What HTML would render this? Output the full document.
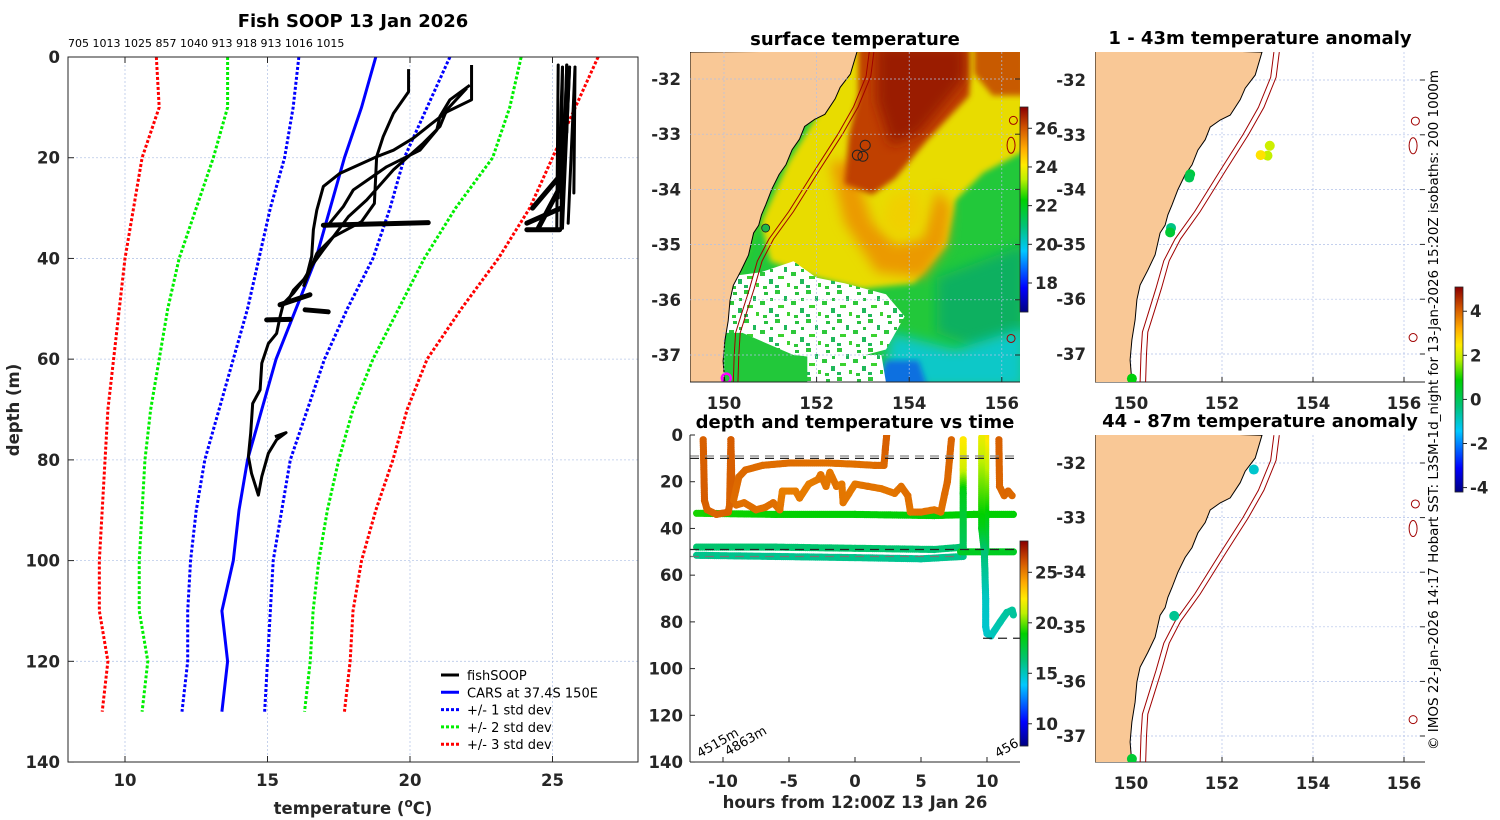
<!DOCTYPE html>
<html><head><meta charset="utf-8"><style>
body{margin:0;background:#fff}
svg{display:block;font-family:"DejaVu Sans","Liberation Sans",sans-serif}
.tk{font-size:16.5px;font-weight:bold;fill:#262626}
.ttl{font-size:18px;font-weight:bold;fill:#000}
</style></head><body>
<svg id="fig" width="1500" height="820" viewBox="0 0 1500 820" xmlns="http://www.w3.org/2000/svg">
<defs>
<filter id="blur6"><feGaussianBlur stdDeviation="6"/></filter>
<filter id="blur3"><feGaussianBlur stdDeviation="3"/></filter>
<pattern id="speck" width="31" height="29" patternUnits="userSpaceOnUse">
<rect width="31" height="29" fill="#fff"/>
<rect x="0" y="0" width="5" height="4" fill="#2ec83a"/><rect x="9" y="6" width="3" height="5" fill="#1fb85a"/><rect x="3" y="15" width="6" height="3" fill="#3cd230"/><rect x="20" y="2" width="4" height="3" fill="#28c040"/>
<rect x="16" y="11" width="5" height="4" fill="#2ec83a"/><rect x="25" y="18" width="4" height="5" fill="#1fb85a"/><rect x="12" y="22" width="3" height="4" fill="#3cd230"/><rect x="26" y="8" width="3" height="3" fill="#28c040"/><rect x="0" y="24" width="4" height="3" fill="#1fb85a"/><rect x="19" y="25" width="4" height="3" fill="#2ec83a"/>
</pattern>
<clipPath id="clipL"><rect x="68" y="57" width="570" height="705"/></clipPath>
<clipPath id="clipM"><rect x="690" y="52" width="330" height="330"/></clipPath>
<clipPath id="clipT"><rect x="690" y="435" width="330" height="327"/></clipPath>
<clipPath id="clipR1"><rect x="1095" y="52" width="330" height="330"/></clipPath>
<clipPath id="clipR2"><rect x="1095" y="435" width="330" height="327"/></clipPath>
</defs>
<g id="left"></g>
<g id="mid"></g>
<g id="time"></g>
<g id="right"></g>
</svg>
<script>
// ---------- data: profile chart ----------
const depths=[0,10,20,30,40,50,60,70,80,90,100,110,120,130];
const carsMean=[18.8,18.3,17.7,17.2,16.7,16.0,15.3,14.8,14.3,14.0,13.8,13.4,13.6,13.4];
const std1Lo=[16.1,15.9,15.6,15.1,14.7,14.3,13.8,13.3,12.8,12.5,12.3,12.2,12.2,12.0];
const std1Hi=[21.4,20.6,19.8,19.3,18.7,17.8,17.0,16.4,15.8,15.5,15.2,15.1,15.0,14.9];
const std2Lo=[13.6,13.6,13.1,12.5,11.9,11.5,11.2,10.9,10.7,10.6,10.5,10.5,10.8,10.6];
const std2Hi=[23.9,23.5,22.9,21.6,20.5,19.6,18.7,18.0,17.5,17.1,16.8,16.6,16.5,16.3];
const std3Lo=[11.1,11.2,10.6,10.3,10.0,9.8,9.6,9.4,9.3,9.2,9.1,9.1,9.4,9.2];
const std3Hi=[26.6,25.8,25.0,24.2,23.1,21.8,20.6,19.9,19.4,18.8,18.3,18.0,17.9,17.7];
const xTicks=[10,15,20,25];
const yTicks=[0,20,40,60,80,100,120,140];
const countLabels="705 1013 1025 857 1040 913 918 913 1016 1015";
const fishT1=[19.95,19.95,19.42,19.06,18.83,18.75,18.3,17.31,16.96,16.61,16.26,15.91,15.56,15.44,15.32,15.03,14.8,14.74,14.48,14.41,14.33,14.44,14.68,14.8,15.03,15.32,15.65,15.26];
const fishD1=[2.4,6.9,11.2,15.8,19.8,29.1,32.7,35.7,38.3,41.0,44.3,46.9,48.9,51.6,54.9,56.9,60.8,66.1,68.8,74.7,79.3,82.7,87.0,83.3,78.7,76.0,74.6,75.4];
const fishT2=[22.16,22.16,21.29,20.7,20.12,19.42,18.83,17.54,16.96,16.73,16.61,16.55,16.37,15.91,15.67];
const fishD2=[1.6,8.5,10.9,13.5,16.1,18.5,19.8,23.1,25.7,30.4,34.3,39.6,43.6,46.3,48.9];
const fishT3=[22.1,21.4,21.05,20.94,20.35,19.18,18.01,17.66,17.08];
const fishD3=[5.6,8.5,11.8,14.5,18.5,21.8,26.4,29.7,33.7];
const fishT4=[21.99,21.29,21.05,20.47,19.42,18.48,17.84,17.31,16.73,16.49,16.26];
const fishD4=[6.2,10.5,13.8,17.1,22.4,28.4,31.7,35.7,39.0,42.3,45.6];
const fishT5=[25.2,25.15,25.3,25.35,25.2,25.3,25.5,25.4,25.35,25.6,25.5,25.55,25.79,25.75];
const fishD5=[1.6,34,34,2,28,34,1.6,20,34,2,15,33,2,27];
const fishT6=[24.1,25.25,24.3,25.2,24.5,25.25,24.1,25.3];
const fishD6=[34.3,34.3,30,24,34,26,33,30];
const smearT=[16.96,20.64,15.44,16.49,16.32,17.13,14.97,15.79];
const smearD=[33.4,32.9,49.2,47.2,50.2,50.6,52.2,52.1];

// ---------- data: time chart ----------
const hTicks=[-10,-5,0,5,10];
const dTicks=[0,20,40,60,80,100,120,140];
const cbTicksT=[10,15,20,25];
const segA_h=[-11.5,-11.4,-11.2,-10.5,-9.6,-9.5,-9.4,-9.3];
const segA_d=[2,28,32,34,33,30,2,28];
const segA_t=[25.8,25.9,25.8,25.7,25.8,25.7,25.9,25.8];
const segB_h=[-9.2,-8.8,-8.3,-7,-5,-2,0,1.5,2.2,2.3,2.4];
const segB_d=[28,18,15,13,12,12,12.5,13,13,6,0];
const segB_t=[25.5,25.6,25.6,25.5,25.5,25.4,25.4,25.5,25.6,25.8,25.8];
const segC_h=[-9.0,-8.4,-7.5,-6.8,-6.2,-5.7,-5.5,-4.5,-4.2,-3.5,-2.8,-2.6,-2.2,-1.9,-1.4,-1.0,-0.9,0,1,2,3,3.5,4,4.2,5,6,6.5,6.8,7.0,7.3];
const segC_d=[30,29,32,31,29,32,24,24,27,21,19,17,22,16,22,21,29,21,22,23,25,22,26,33,33,32,33,25,20,2];
const segC_t=[25.5,25.4,25.5,25.4,25.5,25.4,25.1,25.1,25.2,25.1,25.2,25.3,25.3,25.2,25.4,25.2,25.3,25.2,25.4,25.3,25.3,25.4,25.5,25.3,25.4,25.3,25.4,25.5,25.6,25.7];
const segD_h=[10.9,10.95,11.3,11.6,11.9];
const segD_d=[2,22,26,24,26];
const segD_t=[25.8,25.7,25.6,25.7,25.6];
const segE_h=[-12,-6,0,6,9,12];
const segE_d=[33.5,34,34,34.5,34,34];
const segE_t=[19.2,19.0,18.9,18.8,19.0,18.9];
const segF_h=[-12,-6,0,6,8.2];
const segF_d=[48,48,48.5,49,48];
const segF_t=[16.6,16.5,16.6,16.4,16.5];
const segG_h=[-12,-6,0,5,8.2];
const segG_d=[51.5,52,52.5,53,52];
const segG_t=[16.0,15.9,16.0,15.8,16.0];
const segH_h=[8.2,8.2,8.2,8.2];
const segH_d=[2,15,25,48];
const segH_t=[22.5,21.5,18.5,17.0];
const segI_h=[9.6,9.6,9.8,9.9,9.9,10.0,10.3,11.0,11.5,11.9,12.0];
const segI_d=[1,40,50,70,82,85,86,80,76,75,77];
const segI_t=[22.0,18.5,16.5,15.0,14.8,14.8,15.0,15.4,15.6,15.7,15.7];
const segJ_h=[9.9,9.9];
const segJ_d=[0,50];
const segJ_t=[22.8,17.0];
const segK_h=[8,10,12];
const segK_d=[50,50,50];
const segK_t=[18.2,18.3,18.2];

// ---------- data: maps ----------
const lonTicks=[150,152,154,156];
const latTicks=[-32,-33,-34,-35,-36,-37];
const sstTicks=[18,20,22,24,26];
const anomTicks=[-4,-2,0,2,4];
const coastLon=[152.88,152.73,152.51,152.40,152.18,151.96,151.74,151.63,151.47,151.34,151.19,151.03,150.90,150.81,150.75,150.64,150.53,150.37,150.20,150.13,150.09,150.02,149.98,150.02];
const coastLat=[-31.49,-31.91,-32.15,-32.36,-32.64,-32.73,-32.86,-33.09,-33.28,-33.55,-33.73,-34.0,-34.28,-34.46,-34.65,-34.79,-35.19,-35.47,-35.74,-36.01,-36.38,-36.74,-37.11,-37.51];
const iso200Lon=[153.14,153.07,152.80,152.46,151.97,151.40,150.97,150.72,150.55,150.40,150.25,150.22,150.20];
const iso200Lat=[-31.49,-31.95,-32.50,-33.0,-33.64,-34.4,-34.9,-35.3,-35.8,-36.2,-36.6,-37.0,-37.51];
const anomLon1=[153.05,153.0,152.85,151.3,151.28,150.88,150.86,150.02];
const anomLat1=[-33.2,-33.38,-33.37,-33.72,-33.78,-34.7,-34.78,-37.45];
const anomVal1=[2.0,1.9,2.6,0.3,0.1,-0.4,0.4,0.8];
const anomLon2=[152.7,150.95,150.02];
const anomLat2=[-32.12,-34.8,-37.42];
const anomVal2=[-1.0,-0.5,0.4];
const islandLon=[156.25,156.2,156.2];
const islandLat=[-32.75,-33.2,-36.7];

// ---------- helpers ----------
const NS="http://www.w3.org/2000/svg";
function mk(tag,parent,attrs){const e=document.createElementNS(NS,tag);for(const k in attrs)e.setAttribute(k,attrs[k]);parent.appendChild(e);return e;}
function txt(parent,x,y,s,cls,anchor,extra){const e=mk('text',parent,Object.assign({x:x,y:y,'text-anchor':anchor||'middle'},extra||{}));if(cls)e.setAttribute('class',cls);e.textContent=s;return e;}
const stops=[[0,[0,0,127]],[0.12,[0,0,255]],[0.3,[0,200,255]],[0.42,[0,195,120]],[0.55,[0,208,0]],[0.65,[190,240,0]],[0.72,[255,235,0]],[0.8,[255,170,0]],[0.9,[210,85,0]],[1,[139,0,0]]];
function cmap(f){f=Math.max(0,Math.min(1,f));for(let i=1;i<stops.length;i++){if(f<=stops[i][0]){const a=stops[i-1],b=stops[i];const u=(f-a[0])/(b[0]-a[0]);const c=a[1].map((v,j)=>Math.round(v+(b[1][j]-v)*u));return `rgb(${c[0]},${c[1]},${c[2]})`;}}return 'rgb(139,0,0)';}
function colorbar(g,x,y,w,h,vmin,vmax,ticks,name){
  const cb=mk('g',g,{});
  
  
  for(let i=0;i<h;i++){mk('rect',cb,{x:x,y:y+i,width:w,height:1.2,fill:cmap(1-i/h)});}
  mk('rect',cb,{x:x,y:y,width:w,height:h,fill:'none',stroke:'#262626','stroke-width':0.8});
  ticks.forEach(t=>{const yy=y+h-(t-vmin)/(vmax-vmin)*h;mk('line',cb,{x1:x+w,x2:x+w+4,y1:yy,y2:yy,stroke:'#262626'});txt(cb,x+w+7,yy+6,String(t),'tk','start');});
}

// ---------- left profile chart ----------
const L=document.getElementById('left');
const lx=t=>68+(t-8)*28.5, ly=d=>57+d*5.036;
const tl=txt(L,353,27,'Fish SOOP 13 Jan 2026','ttl');

const cl=txt(L,68,47,countLabels,null,'start',{'font-size':'11','fill':'#000'});

const gridL=mk('g',L,{});

xTicks.forEach(t=>mk('line',gridL,{x1:lx(t),x2:lx(t),y1:57,y2:762,stroke:'#b8c8e8','stroke-width':0.8,'stroke-dasharray':'2 2'}));
yTicks.forEach(d=>mk('line',gridL,{x1:68,x2:638,y1:ly(d),y2:ly(d),stroke:'#b8c8e8','stroke-width':0.8,'stroke-dasharray':'2 2'}));
const plotL=mk('g',L,{'clip-path':'url(#clipL)'});
function profLine(vals,color,dash,name,w){const p=mk('polyline',plotL,{points:vals.map((v,i)=>lx(v)+','+ly(depths[i])).join(' '),fill:'none',stroke:color,'stroke-width':w||3,'stroke-dasharray':dash||'none'});}
profLine(std3Lo,'#ff0000','3 2','std3-low-line');profLine(std3Hi,'#ff0000','3 2','std3-high-line');
profLine(std2Lo,'#00ee00','3 2','std2-low-line');profLine(std2Hi,'#00ee00','3 2','std2-high-line');
profLine(std1Lo,'#0000ff','3 2','std1-low-line');profLine(std1Hi,'#0000ff','3 2','std1-high-line');
profLine(carsMean,'#0000ff',null,'cars-mean-line',3);
function fish(T,D,name,pairs){const g=mk('g',plotL,{});
  if(pairs){for(let i=0;i+1<T.length;i+=(pairs===2?2:1)){if(pairs===3&&[1,4,7,10].includes(i))continue;mk('line',g,{x1:lx(T[i]),y1:ly(D[i]),x2:lx(T[i+1]),y2:ly(D[i+1]),stroke:'#000','stroke-width':pairs===2?5:3,'stroke-linecap':'round'});}}
  else mk('polyline',g,{points:T.map((v,i)=>lx(v)+','+ly(D[i])).join(' '),fill:'none',stroke:'#000','stroke-width':3,'stroke-linejoin':'round'});}
fish(fishT1,fishD1,'fish-profile-1');fish(fishT2,fishD2,'fish-profile-2');fish(fishT3,fishD3,'fish-profile-3');fish(fishT4,fishD4,'fish-profile-4');
fish(fishT5,fishD5,'fish-profile-warm',3);fish(fishT6,fishD6,'fish-profile-warm-bottom',2);fish(smearT,smearD,'fish-smear',2);
mk('rect',L,{x:68,y:57,width:570,height:705,fill:'none',stroke:'#262626','stroke-width':1});
xTicks.forEach(t=>{mk('line',L,{x1:lx(t),x2:lx(t),y1:57,y2:63,stroke:'#262626'});mk('line',L,{x1:lx(t),x2:lx(t),y1:762,y2:756,stroke:'#262626'});txt(L,lx(t),786,String(t),'tk');});
yTicks.forEach(d=>{mk('line',L,{x1:68,x2:74,y1:ly(d),y2:ly(d),stroke:'#262626'});txt(L,60,ly(d)+6,String(d),'tk','end');});
const xl=mk('text',L,{x:353,y:814,'text-anchor':'middle',class:'tk','font-size':'18'});xl.innerHTML='temperature (<tspan dy="-7" font-size="12">o</tspan><tspan dy="7">C)</tspan>';

const yl=txt(L,19,410,'depth (m)','tk','middle',{transform:'rotate(-90 19 410)','font-size':'18'});

const leg=mk('g',L,{});
const legItems=[['fishSOOP','#000',null],['CARS at 37.4S 150E','#0000ff',null],['+/- 1 std dev','#0000ff','3 2'],['+/- 2 std dev','#00ee00','3 2'],['+/- 3 std dev','#ff0000','3 2']];
legItems.forEach((it,i)=>{const y=675+i*17.3;const e=mk('g',leg,{});
  mk('line',e,{x1:441,x2:459,y1:y,y2:y,stroke:it[1],'stroke-width':3,'stroke-dasharray':it[2]||'none'});txt(e,467,y+5,it[0],null,'start',{'font-size':'13','fill':'#000'});});

// ---------- middle map ----------
const M=document.getElementById('mid');
const mx=lon=>724+(lon-150)*46.3, my=lat=>79+(-32-lat)*55.2;
const pts=(lons,lats,fx,fy)=>lons.map((v,i)=>fx(v).toFixed(1)+','+fy(lats[i]).toFixed(1)).join(' ');
const tm=txt(M,855,45,'surface temperature','ttl');
const mapM=mk('g',M,{'clip-path':'url(#clipM)'});
function poly(g,lonlat,fill,filt,fx,fy){const p=mk('polygon',g,{points:lonlat.map(q=>fx(q[0]).toFixed(1)+','+fy(q[1]).toFixed(1)).join(' '),fill:fill});if(filt)p.setAttribute('filter',filt);return p;}
const sst=mk('g',mapM,{});
mk('rect',sst,{x:690,y:52,width:330,height:330,fill:'#22c83a'});
poly(sst,[[151.0,-31.4],[156.5,-31.4],[156.5,-33.3],[155.6,-33.7],[155.0,-34.2],[154.8,-35.0],[154.1,-35.7],[153.0,-35.8],[152.0,-35.6],[151.0,-35.3],[150.8,-34.6],[151.4,-33.5],[152.2,-32.4]],'#e8dc00','url(#blur3)',mx,my);
poly(sst,[[152.3,-33.5],[152.6,-34.6],[153.3,-35.5],[154.3,-35.6],[154.8,-35.0],[154.9,-34.3],[154.6,-34.0],[154.3,-34.9],[153.7,-35.0],[153.2,-34.6],[153.0,-34.1],[152.9,-33.5]],'#eb9a00','url(#blur6)',mx,my);
poly(sst,[[152.9,-31.4],[155.3,-31.4],[155.3,-32.3],[154.4,-33.1],[153.7,-33.8],[153.2,-34.1],[152.6,-33.9],[152.7,-33.0],[152.9,-32.3]],'#c04000','url(#blur3)',mx,my);
poly(sst,[[153.3,-31.4],[155.2,-31.4],[155.2,-32.0],[154.2,-33.0],[153.6,-33.2],[153.3,-32.4]],'#9a1a00','url(#blur6)',mx,my);
poly(sst,[[155.4,-31.4],[156.5,-31.4],[156.5,-32.3],[155.8,-32.3],[155.4,-31.9]],'#c85a00','url(#blur3)',mx,my);
poly(sst,[[153.6,-34.1],[154.2,-34.0],[154.3,-34.6],[153.8,-34.9],[153.4,-34.6]],'#f0d000','url(#blur6)',mx,my);
poly(sst,[[150.9,-31.4],[151.4,-31.4],[151.5,-32.5],[151.0,-33.6],[150.7,-34.8],[150.3,-35.6],[149.9,-35.6],[150.4,-34.5],[150.9,-33.4],[151.4,-32.3]],'#40d020','url(#blur3)',mx,my);
poly(sst,[[154.6,-35.6],[156.5,-35.0],[156.5,-36.6],[155.5,-36.9],[154.6,-36.6]],'#10b060','url(#blur6)',mx,my);
poly(sst,[[153.6,-36.6],[155.0,-36.9],[156.5,-36.5],[156.5,-37.6],[153.4,-37.6]],'#10c8c8','url(#blur6)',mx,my);
poly(sst,[[153.5,-37.1],[154.2,-37.1],[154.4,-37.6],[153.3,-37.6]],'#1070e0','url(#blur3)',mx,my);
poly(sst,[[149.9,-35.6],[150.8,-35.5],[151.5,-35.3],[152.0,-35.6],[152.6,-35.7],[153.5,-35.9],[153.9,-36.3],[153.5,-36.9],[152.6,-37.1],[151.5,-37.0],[150.4,-36.6],[150.0,-36.6]],'url(#speck)',null,mx,my);
poly(sst,[[151.8,-37.0],[153.4,-37.0],[153.5,-37.5],[151.8,-37.5]],'url(#speck)',null,mx,my);
const landM=mk('polygon',mapM,{points:'690,52 '+pts(coastLon,coastLat,mx,my)+' 690,382',fill:'#f9c896',stroke:'#000','stroke-width':1});

mk('polyline',mapM,{points:pts(iso200Lon,iso200Lat,mx,my),fill:'none',stroke:'#a00000','stroke-width':1});
mk('polyline',mapM,{points:pts(iso200Lon.map(v=>v+0.1),iso200Lat,mx,my),fill:'none',stroke:'#a00000','stroke-width':1});
[[153.05,-33.2],[152.88,-33.38],[153.0,-33.4]].forEach(q=>mk('circle',mapM,{cx:mx(q[0]),cy:my(q[1]),r:5,fill:'none',stroke:'#222','stroke-width':1}));
mk('circle',mapM,{cx:mx(150.9),cy:my(-34.7),r:4,fill:'#1eb84a',stroke:'#222','stroke-width':0.8});
mk('circle',mapM,{cx:mx(150.05),cy:my(-37.42),r:4.5,fill:'none',stroke:'#ff00ff','stroke-width':2.5});
islandLon.forEach((v,i)=>mk('ellipse',mapM,{cx:mx(v),cy:my(islandLat[i]),rx:4,ry:i===1?8:4,fill:'none',stroke:'#a00000','stroke-width':1}));
function mapAxes(g,x0,y0,w,h,fx,fy,gridLat){
  lonTicks.forEach(t=>{mk('line',g,{x1:fx(t),x2:fx(t),y1:y0,y2:y0+h,stroke:'#b0c0e8','stroke-width':0.7,'stroke-dasharray':'2 2'});mk('line',g,{x1:fx(t),x2:fx(t),y1:y0+h,y2:y0+h-5,stroke:'#262626'});txt(g,fx(t),y0+h+27,String(t),'tk');});
  latTicks.forEach(t=>{mk('line',g,{x1:x0,x2:x0+w,y1:fy(t),y2:fy(t),stroke:'#b0c0e8','stroke-width':0.7,'stroke-dasharray':'2 2'});mk('line',g,{x1:x0+w,x2:x0+w-5,y1:fy(t),y2:fy(t),stroke:'#262626'});txt(g,x0-9,fy(t)+6,String(t),'tk','end');});
  mk('line',g,{x1:x0,x2:x0+w,y1:y0+h,y2:y0+h,stroke:'#262626'});
}
mapAxes(M,690,52,330,330,mx,my);
colorbar(M,1020,107,8,205,16.5,27.1,sstTicks,'sst-colorbar');

// ---------- time chart ----------
const T=document.getElementById('time');
const tx=h=>723+(h+10)*13.2, ty=d=>435+d*2.336;
const tt=txt(T,855,428,'depth and temperature vs time','ttl');
const plotT=mk('g',T,{'clip-path':'url(#clipT)'});
const dash=[[9,'#888',-12.5,12.5],[10,'#222',-12.5,12.5],[49,'#222',-12.5,12.5],[52,'#777',-12.5,8],[87,'#222',9.7,12.5]];
const tvmin=7.8,tvmax=28.1;
function seg(H,D,Tt,name){const g=mk('g',plotT,{});
  for(let i=0;i+1<H.length;i++){const x1=tx(H[i]),y1=ty(D[i]),x2=tx(H[i+1]),y2=ty(D[i+1]);const n=Math.max(2,Math.ceil(Math.hypot(x2-x1,y2-y1)/2));
    for(let k=0;k<=n;k++){const u=k/n;const t=Tt[i]+(Tt[i+1]-Tt[i])*u;mk('circle',g,{cx:(x1+(x2-x1)*u).toFixed(1),cy:(y1+(y2-y1)*u).toFixed(1),r:3.6,fill:cmap((t-tvmin)/(tvmax-tvmin))});}}}
seg(segF_h,segF_d,segF_t,'series-48m');seg(segG_h,segG_d,segG_t,'series-52m');seg(segK_h,segK_d,segK_t,'series-50m-late');
seg(segE_h,segE_d,segE_t,'series-34m');
seg(segA_h,segA_d,segA_t,'series-orange-a');seg(segB_h,segB_d,segB_t,'series-orange-b');seg(segC_h,segC_d,segC_t,'series-orange-c');seg(segD_h,segD_d,segD_t,'series-orange-d');
seg(segH_h,segH_d,segH_t,'series-vertical-8h');seg(segJ_h,segJ_d,segJ_t,'series-vertical-10h');seg(segI_h,segI_d,segI_t,'series-deep-dive');
dash.forEach(q=>{const l=mk('line',plotT,{x1:tx(q[2]),x2:tx(q[3]),y1:ty(q[0]),y2:ty(q[0]),stroke:q[1],'stroke-width':1.3,'stroke-dasharray':'9 6'});});
txt(plotT,700,758,'4515m',null,'start',{'font-size':'13',transform:'rotate(-30 700 758)'});
txt(plotT,728,756,'4863m',null,'start',{'font-size':'13',transform:'rotate(-30 728 756)'});
txt(plotT,998,758,'456 m',null,'start',{'font-size':'13',transform:'rotate(-30 998 758)'});
mk('line',T,{x1:690,x2:690,y1:435,y2:762,stroke:'#262626'});mk('line',T,{x1:690,x2:1020,y1:762,y2:762,stroke:'#262626'});
hTicks.forEach(h=>{mk('line',T,{x1:tx(h),x2:tx(h),y1:762,y2:757,stroke:'#262626'});txt(T,tx(h),787,String(h),'tk');});
dTicks.forEach(d=>{mk('line',T,{x1:690,x2:695,y1:ty(d),y2:ty(d),stroke:'#262626'});txt(T,683,ty(d)+6,String(d),'tk','end');});
const tx2=txt(T,855,808,'hours from 12:00Z 13 Jan 26','tk','middle',{'font-size':'18'});
colorbar(T,1020,541,8,205,tvmin,tvmax,cbTicksT,'time-colorbar');

// ---------- right anomaly maps ----------
const R=document.getElementById('right');
const rx=lon=>1131+(lon-150)*45.5;
function anomMap(y0,fy,clip,title,lons,lats,vals,name){
  const g=mk('g',R,{});
  const t=txt(g,1260,y0-8,title,'ttl');
  mapAxes(g,1095,y0,330,y0===52?330:327,rx,fy);
  const m=mk('g',g,{'clip-path':'url('+clip+')'});
  mk('polygon',m,{points:'1095,'+(y0-5)+' '+pts(coastLon,coastLat,rx,fy)+' 1095,'+(y0+340),fill:'#f9c896',stroke:'#000','stroke-width':1});
  mk('polyline',m,{points:pts(iso200Lon,iso200Lat,rx,fy),fill:'none',stroke:'#a00000','stroke-width':1});
  mk('polyline',m,{points:pts(iso200Lon.map(v=>v+0.12),iso200Lat,rx,fy),fill:'none',stroke:'#a00000','stroke-width':1});
  islandLon.forEach((v,i)=>mk('ellipse',m,{cx:rx(v),cy:fy(islandLat[i]),rx:4,ry:i===1?8:4,fill:'none',stroke:'#a00000','stroke-width':1}));
  lons.forEach((v,i)=>{const c=mk('circle',m,{cx:rx(v),cy:fy(lats[i]),r:5,fill:cmap((vals[i]+4.2)/9.3)});});
}
anomMap(52,lat=>80+(-32-lat)*54.8,'#clipR1','1 - 43m temperature anomaly',anomLon1,anomLat1,anomVal1,'anomaly-map-shallow');
anomMap(435,lat=>463+(-32-lat)*54.6,'#clipR2','44 - 87m temperature anomaly',anomLon2,anomLat2,anomVal2,'anomaly-map-deep');
colorbar(R,1455,287,8,205,-4.2,5.1,anomTicks,'anomaly-colorbar');
const cr=txt(R,1438,410,'© IMOS 22-Jan-2026 14:17 Hobart SST: L3SM-1d_night for 13-Jan-2026 15:20Z isobaths: 200  1000m',null,'middle',{'font-size':'13.5','fill':'#000',transform:'rotate(-90 1438 410)'});

</script>
</body></html>
